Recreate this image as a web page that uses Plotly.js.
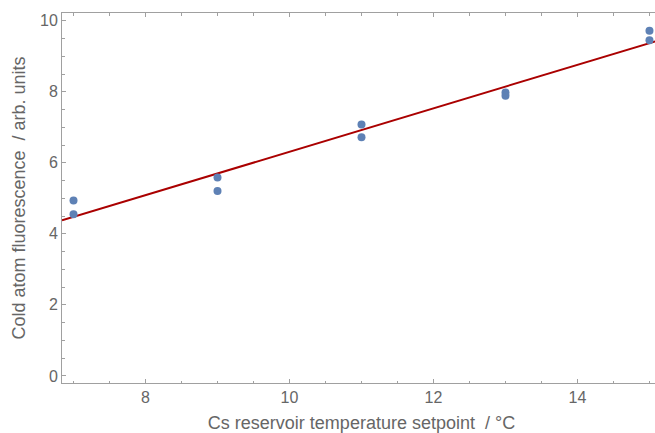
<!DOCTYPE html>
<html>
<head>
<meta charset="utf-8">
<script src="https://cdn.plot.ly/plotly-3.0.1.min.js"></script>
<style>
html,body{margin:0;padding:0;overflow:hidden;background:#fff;}
#chart{width:661px;height:433px;}
</style>
</head>
<body>
<div id="chart"></div>
<script>
// Data
const setpointC = [7, 7, 9, 9, 11, 11, 13, 13, 15, 15];
const fluorescence = [4.94, 4.55, 5.59, 5.21, 7.08, 6.72, 7.98, 7.89, 9.72, 9.45];
const fitX = [6.84, 15.16];
const fitY = [4.38, 9.47];
const xTitle = 'Cs reservoir temperature setpoint  / °C';
const yTitle = 'Cold atom fluorescence  / arb. units';

const FONT = 'Liberation Sans, Arial, sans-serif';
const axisCommon = {
  showgrid: false,
  zeroline: false,
  showline: true,
  linecolor: '#a0a0a0',
  linewidth: 1,
  mirror: 'ticks',
  ticks: 'inside',
  ticklen: 4,
  tickcolor: '#a0a0a0',
  tickwidth: 1,
  tickfont: {family: FONT, size: 16, color: '#666666'},
  minor: {ticks: 'inside', ticklen: 2.5, tickcolor: '#a0a0a0', tickwidth: 1, dtick: 0.5, showgrid: false}
};

const traces = [
  {
    x: fitX, y: fitY, type: 'scatter', mode: 'lines',
    line: {color: '#aa0000', width: 2}, hoverinfo: 'skip'
  },
  {
    x: setpointC, y: fluorescence, type: 'scatter', mode: 'markers',
    marker: {color: '#5e81b5', size: 8}
  }
];

const layout = {
  width: 661, height: 433,
  margin: {l: 62, r: 0, t: 13, b: 50},
  paper_bgcolor: '#ffffff', plot_bgcolor: '#ffffff',
  showlegend: false,
  xaxis: Object.assign({}, axisCommon, {
    range: [6.84, 15.16], tick0: 0, dtick: 2,
    title: {text: xTitle, font: {family: FONT, size: 18, color: '#666666'}, standoff: 12}
  }),
  yaxis: Object.assign({}, axisCommon, {
    range: [-0.2, 10.22], tick0: 0, dtick: 2,
    title: {text: yTitle, font: {family: FONT, size: 18, color: '#666666'}, standoff: 9}
  })
};

Plotly.newPlot('chart', traces, layout, {displayModeBar: false, staticPlot: true});
</script>
</body>
</html>
